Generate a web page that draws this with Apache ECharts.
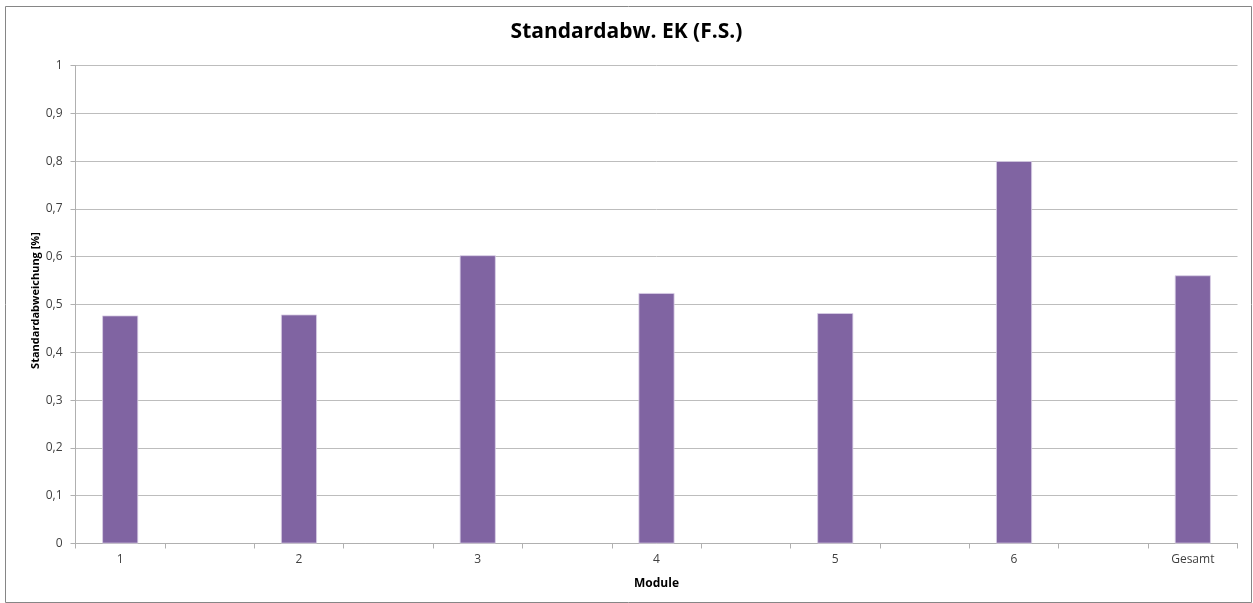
<!DOCTYPE html>
<html>
<head>
<meta charset="utf-8">
<script src="https://cdn.jsdelivr.net/npm/echarts@6/dist/echarts.min.js"></script>
<style>
  html, body { margin: 0; padding: 0; background: #fff; }
  #chart { width: 1253px; height: 603px; }
</style>
</head>
<body>
<div id="chart"></div>
<script>
// Module names and their standard deviations
const modules = ['1', '2', '3', '4', '5', '6', 'Gesamt'];
const stdDev = [0.477, 0.479, 0.603, 0.524, 0.482, 0.800, 0.561];
const yTicks = [0, 0.1, 0.2, 0.3, 0.4, 0.5, 0.6, 0.7, 0.8, 0.9, 1];

// Each module is followed by an empty slot, as in the worksheet layout
const categories = [];
const seriesData = [];
modules.forEach((m, i) => {
  categories.push(m);
  seriesData.push(stdDev[i]);
  if (i < modules.length - 1) {
    categories.push('');
    seriesData.push(null);
  }
});

const font = 'Open Sans, Liberation Sans, sans-serif';
const chart = echarts.init(document.getElementById('chart'));
chart.setOption({
  animation: false,
  backgroundColor: '#fff',
  title: {
    text: 'Standardabw. EK (F.S.)',
    left: 'center',
    top: 17,
    textStyle: { fontFamily: font, fontSize: 21, fontWeight: 'bold', color: '#000' }
  },
  graphic: [{
    type: 'rect',
    shape: { x: 5.5, y: 6.5, width: 1246, height: 596 },
    style: { fill: 'none', stroke: '#868686', lineWidth: 1 },
    silent: true
  }],
  grid: { left: 75.5, right: 15.5, top: 65.5, bottom: 59.5 },
  xAxis: {
    type: 'category',
    data: categories,
    name: 'Module',
    nameLocation: 'middle',
    nameGap: 34,
    nameMoveOverlap: false,
    nameTextStyle: { fontFamily: font, fontSize: 12, fontWeight: 'bold', color: '#000' },
    axisLine: { lineStyle: { color: '#b0b0b0' } },
    axisTick: { show: true, length: 5, alignWithLabel: false, lineStyle: { color: '#b0b0b0' } },
    axisLabel: { interval: 0, fontFamily: font, fontSize: 12, color: '#404040', margin: 10 }
  },
  yAxis: {
    type: 'value',
    min: yTicks[0],
    max: yTicks[yTicks.length - 1],
    interval: 0.1,
    name: 'Standardabweichung [%]',
    nameLocation: 'middle',
    nameGap: 34,
    nameMoveOverlap: false,
    nameTextStyle: { fontFamily: font, fontSize: 11, fontWeight: 'bold', color: '#000', padding: [0, 0, 0, 8] },
    axisLine: { show: true, lineStyle: { color: '#b0b0b0' } },
    axisTick: { show: true, length: 5, lineStyle: { color: '#b0b0b0' } },
    splitLine: { lineStyle: { color: '#bdbdbd' } },
    axisLabel: {
      fontFamily: font, fontSize: 12, color: '#404040', margin: 13,
      formatter: v => String(Math.round(v * 10) / 10).replace('.', ',')
    }
  },
  series: [{
    type: 'bar',
    data: seriesData,
    barWidth: 36,
    itemStyle: { color: '#8064a2', borderColor: '#d9cfe6', borderWidth: 0.8 }
  }]
});
</script>
</body>
</html>
